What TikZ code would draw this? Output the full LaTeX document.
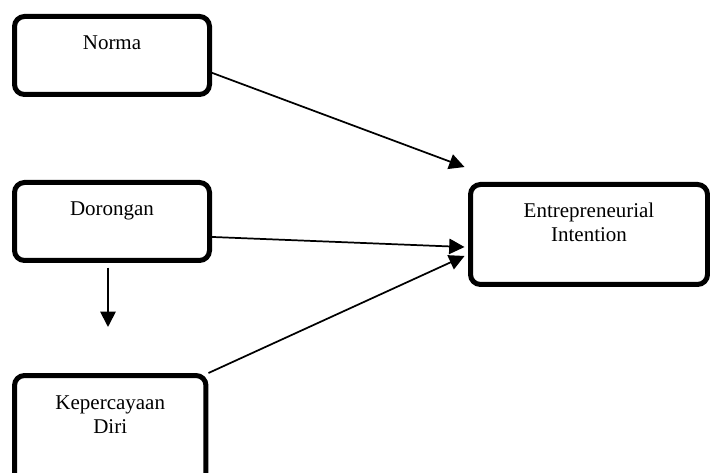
\documentclass[tikz,border=0pt]{standalone}
\usepackage{fontspec}
\setmainfont{Liberation Serif}
\usetikzlibrary{arrows.meta,calc}
\begin{document}
\begin{tikzpicture}[x=0.75pt,y=-0.75pt,
  box/.style={draw, line width=3.75pt, rounded corners=7.5pt, inner sep=0pt},
  lbl/.style={font=\fontsize{15.75pt}{18pt}\selectfont, align=center, anchor=base, inner sep=0pt},
  conn/.style={line width=1.3pt, -{Triangle[length=11.5pt,width=11.5pt]}}]
\useasboundingbox (0,0) rectangle (710,473);
\node[box, minimum width=146.25pt, minimum height=58.5pt] (norma) at (112,55.5) {};
\node[box, minimum width=146.25pt, minimum height=58.5pt] (dorongan) at (112,221.5) {};
\node[box, minimum width=143.6pt, minimum height=89.6pt] (kep) at (110.25,435.25) {};
\node[box, minimum width=177.75pt, minimum height=75pt] (entre) at (589,234.5) {};
\node[lbl] (tnorma) at ([yshift=-27pt]norma.north) {Norma};
\node[lbl] (tdorongan) at ([yshift=-27pt]dorongan.north) {Dorongan};
\node[lbl] (tkep) at ([yshift=-45pt]kep.north) {Kepercayaan\\Diri};
\node[lbl] (tentre) at ([yshift=-45pt]entre.north) {Entrepreneurial\\Intention};
\coordinate (vtip) at (108,327);
\coordinate (ntip) at ([xshift=-2.6pt,yshift=50.6pt]entre.west);
\draw[conn] ([yshift=-13pt]norma.east) -- (ntip);
\draw[conn] ([yshift=-11.6pt]dorongan.east) -- ([xshift=-2.6pt,yshift=-9.4pt]entre.west);
\draw[conn] (kep.north east) -- ([xshift=-2.6pt,yshift=-16.1pt]entre.west);
\draw[conn] ([xshift=-3pt,yshift=-3.5pt]dorongan.south) -- (vtip);
\end{tikzpicture}
\end{document}
